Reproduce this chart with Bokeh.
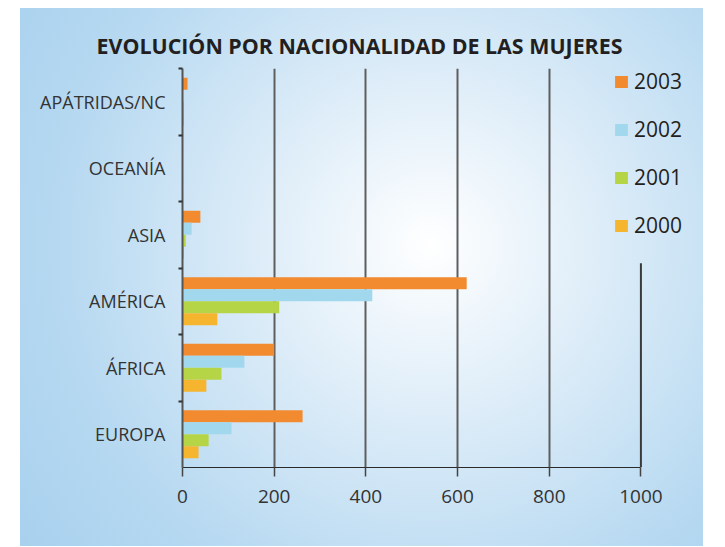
from bokeh.plotting import figure
from bokeh.models import (ColumnDataSource, FixedTicker, Legend, LegendItem, Range1d)
from bokeh.transform import dodge
from bokeh.embed import file_html
from bokeh.resources import INLINE

categories = ["EUROPA", "ÁFRICA", "AMÉRICA", "ASIA", "OCEANÍA", "APÁTRIDAS/NC"]
v2003 = [262, 200, 620, 39, 0, 11]
v2002 = [107, 135, 414, 20, 0, 1]
v2001 = [57, 85, 211, 7, 0, 3]
v2000 = [35, 52, 76, 3, 0, 3]
years = ["2003", "2002", "2001", "2000"]
colors = ["#f28a30", "#a2d8ee", "#b5d547", "#f5b52f"]
x_ticks = [0, 200, 400, 600, 800, 1000]

ypos = [i + 0.5 for i in range(len(categories))]
src = ColumnDataSource(dict(y=ypos, v2003=v2003, v2002=v2002, v2001=v2001, v2000=v2000))

p = figure(width=683, height=538, output_backend="svg", toolbar_location=None,
           x_range=Range1d(0, 1130), y_range=Range1d(0, 6),
           min_border_left=162, min_border_right=3, min_border_top=60,
           min_border_bottom=79)
p.border_fill_color = None
p.background_fill_color = None
p.outline_line_color = None
p.styles = {
    "margin-left": "20px",
    "margin-top": "8px",
    "background": "radial-gradient(circle farthest-corner at 60% 44%, #ffffff 0%, #dcecf8 35%, #b7d9f1 72%, #a8d1ee 100%)",
}

bh = 0.18
offsets = [1.5 * bh, 0.5 * bh, -0.5 * bh, -1.5 * bh]
renderers = []
for yr, col, off in zip(years, colors, offsets):
    r = p.hbar(y=dodge("y", off, range=p.y_range), right="v" + yr, left=0, height=bh,
               source=src, fill_color=col, line_color=None)
    renderers.append(r)

# title
p.title.text = "EVOLUCIÓN POR NACIONALIDAD DE LAS MUJERES"
p.title.text_font = "Open Sans"
p.title.text_font_style = "bold"
p.title.text_font_size = "21.4px"
p.title.text_color = "#231f20"
p.title.align = "left"
p.title.offset = -86
p.title.standoff = 17

# x axis
xa = p.xaxis[0]
xa.ticker = FixedTicker(ticks=x_ticks)
xa.bounds = (0, 1000)
xa.axis_line_color = "#2a2a2a"
xa.axis_line_width = 1.2
xa.major_tick_in = 0
xa.major_tick_out = 9
xa.major_tick_line_color = "#444444"
xa.major_tick_line_width = 1.5
xa.minor_tick_line_color = None
xa.major_label_text_font = "Open Sans"
xa.major_label_text_font_size = "19px"
xa.major_label_text_color = "#333333"
xa.major_label_standoff = 13

# y axis
ya = p.yaxis[0]
ya.ticker = FixedTicker(ticks=ypos, minor_ticks=[1, 2, 3, 4, 5, 6])
ya.major_label_overrides = {y: c for y, c in zip(ypos, categories)}
ya.axis_line_color = "#555555"
ya.axis_line_width = 2
ya.major_tick_in = 0
ya.major_tick_out = 0
ya.minor_tick_in = 0
ya.minor_tick_out = 4
ya.minor_tick_line_color = "#333333"
ya.minor_tick_line_width = 2
ya.major_label_text_font = "Open Sans"
ya.major_label_text_font_size = "18px"
ya.major_label_text_color = "#333333"
ya.major_label_standoff = 13

# grid
p.ygrid.grid_line_color = None
p.xgrid.ticker = FixedTicker(ticks=x_ticks[1:-1])
p.xgrid.grid_line_color = "#5e5e5e"
p.xgrid.grid_line_width = 2
p.segment(x0=[x_ticks[-1]], x1=[x_ticks[-1]], y0=[0], y1=[3.07],
          line_color="#3a3a3a", line_width=2)

legend = Legend(items=[LegendItem(label=yr, renderers=[r]) for yr, r in zip(years, renderers)],
                location=(431, 228))
legend.background_fill_alpha = 0
legend.border_line_color = None
legend.padding = 0
legend.margin = 0
legend.glyph_width = 16
legend.glyph_height = 15
legend.label_height = 15
legend.label_width = 60
legend.label_standoff = 5
legend.spacing = 20
legend.label_text_font = "Open Sans"
legend.label_text_font_size = "21px"
legend.label_text_color = "#231f20"
p.add_layout(legend)

open("out.html", "w").write(file_html(p, INLINE))
